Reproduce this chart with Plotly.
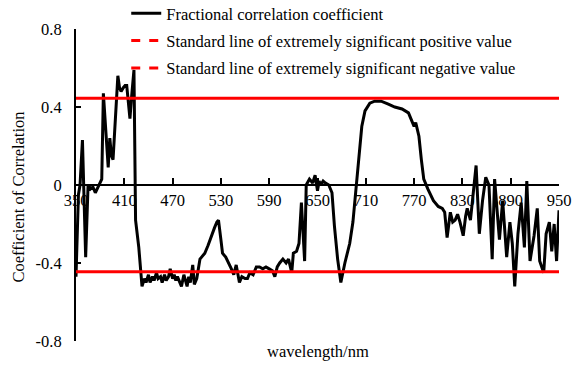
import plotly.graph_objects as go

# ---- data ----
wavelength = [350, 353, 355, 358, 362, 365, 368, 371, 374, 377, 380, 382, 384, 387, 390, 392, 394, 396, 399,
              402, 404, 406, 409, 411, 413, 415, 417, 419, 422, 424, 428, 432, 435, 437, 440, 442, 445, 447,
              450, 452, 455, 457, 460, 462, 465, 467, 470, 472, 474, 476, 479, 481, 484, 486, 488, 490, 492,
              495, 497, 500, 502, 504, 506, 510, 514, 518, 522, 525, 527, 530, 532, 536, 540, 543, 546, 549,
              553, 556, 560, 563, 566, 570, 574, 578, 582, 586, 590, 594, 597, 600, 603, 607, 611, 614, 618,
              620, 624, 627, 630, 634, 636, 640, 644, 647, 650, 652, 654, 657, 660, 664, 668, 671, 675, 679,
              684, 690, 694, 698, 701, 705, 709, 715, 721, 729, 738, 746, 755, 763, 767, 770, 772, 776, 779,
              782, 787, 794, 800, 805, 808, 811, 815, 818, 821, 824, 827, 831, 834, 836, 840, 847, 851, 855,
              859, 863, 867, 870, 876, 880, 885, 889, 892, 895, 899, 903, 907, 910, 914, 919, 923, 926, 931,
              934, 938, 941, 944, 947, 950]
coefficient = [-0.47, -0.05, 0.0, 0.23, -0.37, 0.0, -0.02, -0.01, -0.04, -0.01, 0.02, 0.03, 0.47, 0.25, 0.09,
               0.24, 0.15, 0.13, 0.35, 0.56, 0.50, 0.48, 0.50, 0.51, 0.51, 0.42, 0.34, 0.45, 0.59, -0.18, -0.32,
               -0.52, -0.48, -0.50, -0.46, -0.50, -0.47, -0.49, -0.45, -0.48, -0.47, -0.50, -0.46, -0.49, -0.47,
               -0.43, -0.48, -0.46, -0.49, -0.47, -0.50, -0.52, -0.46, -0.49, -0.52, -0.47, -0.50, -0.41, -0.51,
               -0.48, -0.42, -0.38, -0.37, -0.35, -0.31, -0.26, -0.22, -0.19, -0.18, -0.28, -0.35, -0.37, -0.40,
               -0.43, -0.46, -0.41, -0.50, -0.47, -0.48, -0.48, -0.45, -0.46, -0.42, -0.42, -0.43, -0.42, -0.43,
               -0.44, -0.47, -0.42, -0.40, -0.38, -0.40, -0.38, -0.45, -0.35, -0.34, -0.30, -0.09, -0.39, 0.0,
               0.03, 0.01, 0.05, -0.03, 0.02, 0.0, 0.02, 0.01, 0.0, -0.04, -0.21, -0.38, -0.50, -0.40, -0.30,
               -0.19, 0.0, 0.14, 0.30, 0.38, 0.42, 0.43, 0.43, 0.415, 0.40, 0.39, 0.37, 0.33, 0.30, 0.32, 0.25,
               0.13, 0.03, -0.02, -0.08, -0.11, -0.12, -0.14, -0.27, -0.14, -0.19, -0.18, -0.15, -0.19, -0.26,
               -0.16, -0.12, -0.18, 0.10, -0.25, -0.08, 0.04, 0.0, -0.38, 0.03, -0.28, -0.08, -0.37, -0.19,
               -0.30, -0.52, -0.25, -0.09, -0.32, 0.02, -0.39, -0.26, -0.12, -0.39, -0.45, -0.25, -0.19, -0.34,
               -0.20, -0.39, -0.13]
positive_limit = 0.445
negative_limit = -0.445
x_tickvals = [350, 410, 470, 530, 590, 650, 710, 770, 830, 890, 950]
x_ticktext = ["350", "410", "470", "530", "590", "650", "710", "770", "830", "890", "950"]
y_tickvals = [-0.8, -0.4, 0, 0.4, 0.8]
y_ticktext = ["-0.8", "-0.4", "0", "0.4", "0.8"]

FONT = "Liberation Serif"
FS = 16.5
RED = "#ff0000"
x_span = [min(wavelength), max(wavelength)]

fig = go.Figure()
fig.add_trace(go.Scatter(x=wavelength, y=coefficient, mode="lines",
                         line=dict(color="black", width=3),
                         name="Fractional correlation coefficient", legendgroup="a"))
fig.add_trace(go.Scatter(x=x_span, y=[positive_limit] * 2, mode="lines",
                         line=dict(color=RED, width=3), showlegend=False))
fig.add_trace(go.Scatter(x=x_span, y=[negative_limit] * 2, mode="lines",
                         line=dict(color=RED, width=3), showlegend=False))
fig.add_trace(go.Scatter(x=[None], y=[None], mode="lines",
                         line=dict(color=RED, width=3, dash="dash"),
                         name="Standard line of extremely significant positive value", legendgroup="b"))
fig.add_trace(go.Scatter(x=[None], y=[None], mode="lines",
                         line=dict(color=RED, width=3, dash="dash"),
                         name="Standard line of extremely significant negative value", legendgroup="c"))

fig.update_layout(
    width=577, height=367,
    margin=dict(l=76, r=18, t=29, b=26, autoexpand=False),
    paper_bgcolor="white", plot_bgcolor="white",
    font=dict(family=FONT, size=FS, color="black"),
    showlegend=True,
    legend=dict(x=0.104, y=1.106, xanchor="left", yanchor="top",
                bgcolor="rgba(0,0,0,0)", traceorder="grouped", tracegroupgap=3,
                font=dict(family=FONT, size=FS, color="black")),
    xaxis=dict(range=[350, 950], anchor="free", position=0.5,
               tickvals=x_tickvals, ticktext=x_ticktext,
               showline=True, linecolor="black", linewidth=2,
               ticks="inside", ticklen=6, tickwidth=2, tickcolor="black",
               showgrid=False, zeroline=False,
               tickfont=dict(family=FONT, size=FS, color="black")),
    yaxis=dict(range=[-0.8, 0.8], tickvals=y_tickvals, ticktext=y_ticktext,
               showline=True, linecolor="black", linewidth=2,
               ticks="inside", ticklen=5, tickwidth=2, tickcolor="black",
               ticklabelstandoff=9,
               showgrid=False, zeroline=False,
               tickfont=dict(family=FONT, size=FS, color="black")),
    annotations=[
        dict(text="wavelength/nm", xref="paper", yref="paper", x=0.50, y=-0.035,
             xanchor="center", yanchor="middle", showarrow=False,
             font=dict(family=FONT, size=FS, color="black")),
        dict(text="Coefficient of Correlation", xref="paper", yref="paper", x=-0.12, y=0.46,
             xanchor="center", yanchor="middle", textangle=-90, showarrow=False,
             font=dict(family=FONT, size=FS, color="black")),
    ],
)

fig.write_html("out.html")
